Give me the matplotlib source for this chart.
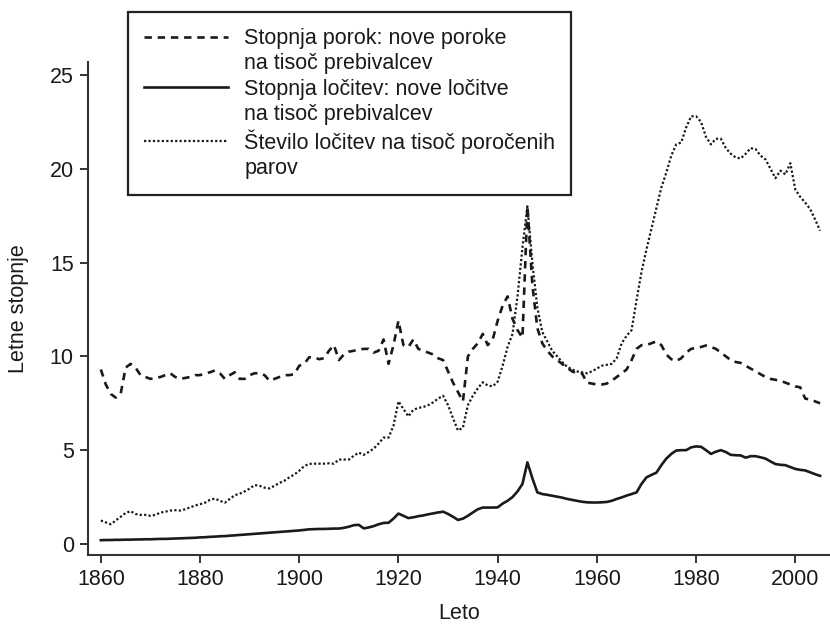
import matplotlib
matplotlib.use("Agg")
import matplotlib.pyplot as plt
from matplotlib.lines import Line2D
import numpy as np

plt.rcParams['font.family'] = ['Liberation Sans', 'DejaVu Sans']

years = list(range(1860, 2006))

porok = [
    9.3, 8.5, 8.0, 7.8, 8.0, 9.4, 9.6, 9.4, 9.0, 8.9,
    8.8, 8.85, 8.9, 9.0, 9.1, 8.9, 8.8, 8.85, 8.9, 9.0,
    9.0, 9.1, 9.15, 9.25, 9.1, 8.8, 9.0, 9.15, 8.8, 8.8,
    9.0, 9.1, 9.1, 9.0, 8.7, 8.8, 8.9, 9.0, 9.0, 9.05,
    9.5, 9.6, 9.95, 9.95, 9.85, 9.9, 10.3, 10.6, 9.8, 10.1,
    10.25, 10.3, 10.35, 10.4, 10.4, 10.2, 10.3, 10.9, 9.6, 10.6,
    11.9, 10.6, 10.5, 10.9, 10.4, 10.3, 10.2, 10.1, 9.9, 9.8,
    9.2, 8.6, 8.1, 7.6, 10.0, 10.4, 10.7, 11.2, 10.6, 10.9,
    11.9, 12.7, 13.2, 12.0, 11.4, 11.0, 18.0, 13.8, 11.5, 10.7,
    10.3, 10.0, 9.8, 9.6, 9.4, 9.2, 9.1, 9.1, 8.6, 8.55,
    8.5, 8.5, 8.55, 8.7, 8.9, 9.1, 9.3, 9.8, 10.4, 10.6,
    10.6, 10.7, 10.8, 10.6, 10.1, 9.85, 9.75, 9.9, 10.2, 10.4,
    10.45, 10.5, 10.58, 10.5, 10.4, 10.2, 10.0, 9.8, 9.7, 9.65,
    9.5, 9.35, 9.2, 9.05, 8.9, 8.8, 8.75, 8.7, 8.6, 8.5,
    8.4, 8.35, 7.75, 7.7, 7.6, 7.5,
]

locitev = [
    0.20, 0.21, 0.21, 0.22, 0.22, 0.23, 0.23, 0.24, 0.24, 0.25,
    0.25, 0.26, 0.27, 0.27, 0.28, 0.29, 0.30, 0.31, 0.32, 0.33,
    0.35, 0.36, 0.38, 0.39, 0.41, 0.42, 0.44, 0.46, 0.48, 0.50,
    0.52, 0.54, 0.56, 0.58, 0.60, 0.62, 0.64, 0.66, 0.68, 0.70,
    0.72, 0.75, 0.78, 0.79, 0.80, 0.80, 0.81, 0.82, 0.82, 0.86,
    0.92, 1.00, 1.02, 0.83, 0.88, 0.95, 1.05, 1.12, 1.13, 1.35,
    1.62, 1.50, 1.38, 1.42, 1.48, 1.52, 1.58, 1.63, 1.68, 1.72,
    1.60, 1.45, 1.28, 1.35, 1.50, 1.68, 1.85, 1.94, 1.94, 1.94,
    1.95, 2.15, 2.30, 2.50, 2.80, 3.20, 4.35, 3.50, 2.75, 2.66,
    2.62, 2.57, 2.52, 2.47, 2.40, 2.35, 2.30, 2.25, 2.22, 2.21,
    2.21, 2.22, 2.24, 2.30, 2.40, 2.48, 2.58, 2.66, 2.75, 3.20,
    3.55, 3.68, 3.80, 4.20, 4.55, 4.80, 4.98, 5.00, 5.00, 5.15,
    5.20, 5.18, 5.00, 4.80, 4.92, 5.00, 4.90, 4.75, 4.73, 4.72,
    4.60, 4.68, 4.68, 4.62, 4.55, 4.40, 4.26, 4.22, 4.20, 4.10,
    4.00, 3.95, 3.92, 3.82, 3.72, 3.63,
]

locitev_parov = [
    1.25, 1.15, 1.05, 1.25, 1.45, 1.65, 1.75, 1.60, 1.55, 1.55,
    1.50, 1.55, 1.67, 1.72, 1.78, 1.80, 1.78, 1.85, 1.95, 2.05,
    2.12, 2.20, 2.35, 2.42, 2.30, 2.20, 2.40, 2.60, 2.68, 2.80,
    2.95, 3.14, 3.10, 3.00, 2.96, 3.10, 3.25, 3.37, 3.55, 3.70,
    3.90, 4.15, 4.27, 4.28, 4.28, 4.28, 4.30, 4.28, 4.50, 4.50,
    4.50, 4.70, 4.87, 4.75, 4.90, 5.08, 5.35, 5.67, 5.67, 6.30,
    7.60, 7.20, 6.80, 7.15, 7.25, 7.30, 7.40, 7.55, 7.75, 7.90,
    7.40, 6.70, 6.05, 6.20, 7.40, 7.90, 8.30, 8.62, 8.45, 8.40,
    8.65, 9.50, 10.50, 11.20, 13.20, 15.80, 18.00, 15.00, 12.60, 11.30,
    10.80, 10.30, 10.00, 9.70, 9.45, 9.30, 9.20, 9.15, 9.10, 9.20,
    9.35, 9.50, 9.55, 9.60, 9.90, 10.70, 11.10, 11.40, 13.00, 14.50,
    15.70, 16.80, 17.90, 19.00, 19.80, 20.70, 21.30, 21.40, 22.20, 22.80,
    22.80, 22.50, 21.70, 21.30, 21.60, 21.60, 21.10, 20.80, 20.60, 20.55,
    20.80, 21.10, 21.05, 20.70, 20.50, 20.00, 19.50, 19.90, 19.70, 20.30,
    18.90, 18.50, 18.20, 17.85, 17.30, 16.70,
]

label_porok = ["Stopnja porok: nove poroke", "na tisoč prebivalcev"]
label_locitev = ["Stopnja ločitev: nove ločitve", "na tisoč prebivalcev"]
label_parov = ["Število ločitev na tisoč poročenih", "parov"]
xticks = [1860, 1880, 1900, 1920, 1940, 1960, 1980, 2000]
yticks = [0, 5, 10, 15, 20, 25]
xlabel = "Leto"
ylabel = "Letne stopnje"

ink = '#1a1a1a'
fs = 15.5

fig = plt.figure(figsize=(8.30, 6.28), dpi=100)
ax = fig.add_axes([0.1057, 0.1162, 0.8943, 0.785])

dash_style = (0, (2.8, 2.2))
dot_style = (0, (1.0, 1.0))

l1, = ax.plot(years, porok, color=ink, lw=1.9, linestyle=dash_style)
l2, = ax.plot(years, locitev, color=ink, lw=1.9, linestyle='-')
l3, = ax.plot(years, locitev_parov, color=ink, lw=1.6, linestyle=dot_style)

ax.set_xlim(1857.36, 2007.0)
ax.set_ylim(-0.59, 25.69)
ax.set_xticks(xticks)
ax.set_yticks(yticks)

for s in ['top', 'right']:
    ax.spines[s].set_visible(False)
for s in ['left', 'bottom']:
    ax.spines[s].set_color('#333333')
    ax.spines[s].set_linewidth(1.5)

ax.tick_params(axis='both', direction='out', length=6, width=1.4,
               color='#333333', labelsize=fs, labelcolor=ink, pad=4)

ax.set_xlabel(xlabel, fontsize=fs, color=ink, va='center')
ax.set_ylabel(ylabel, fontsize=fs, color=ink, va='center')
ax.xaxis.set_label_coords(0.5, -0.118)
ax.yaxis.set_label_coords(-0.093, 0.5)

blank = Line2D([], [], linestyle='none')
handles = [l1, blank, l2, blank, l3, blank]
labels = [label_porok[0], label_porok[1], label_locitev[0], label_locitev[1],
          label_parov[0], label_parov[1]]
leg = fig.legend(handles, labels, loc='upper left', bbox_to_anchor=(0.154, 0.981),
                 bbox_transform=fig.transFigure, fontsize=fs, frameon=True,
                 fancybox=False, framealpha=1, edgecolor='#222222',
                 handlelength=3.9, handletextpad=0.75, borderpad=0.75,
                 labelspacing=0.2, borderaxespad=0)
leg.get_frame().set_linewidth(1.6)
for t in leg.get_texts():
    t.set_color(ink)

fig.savefig('out.png', dpi=100)
